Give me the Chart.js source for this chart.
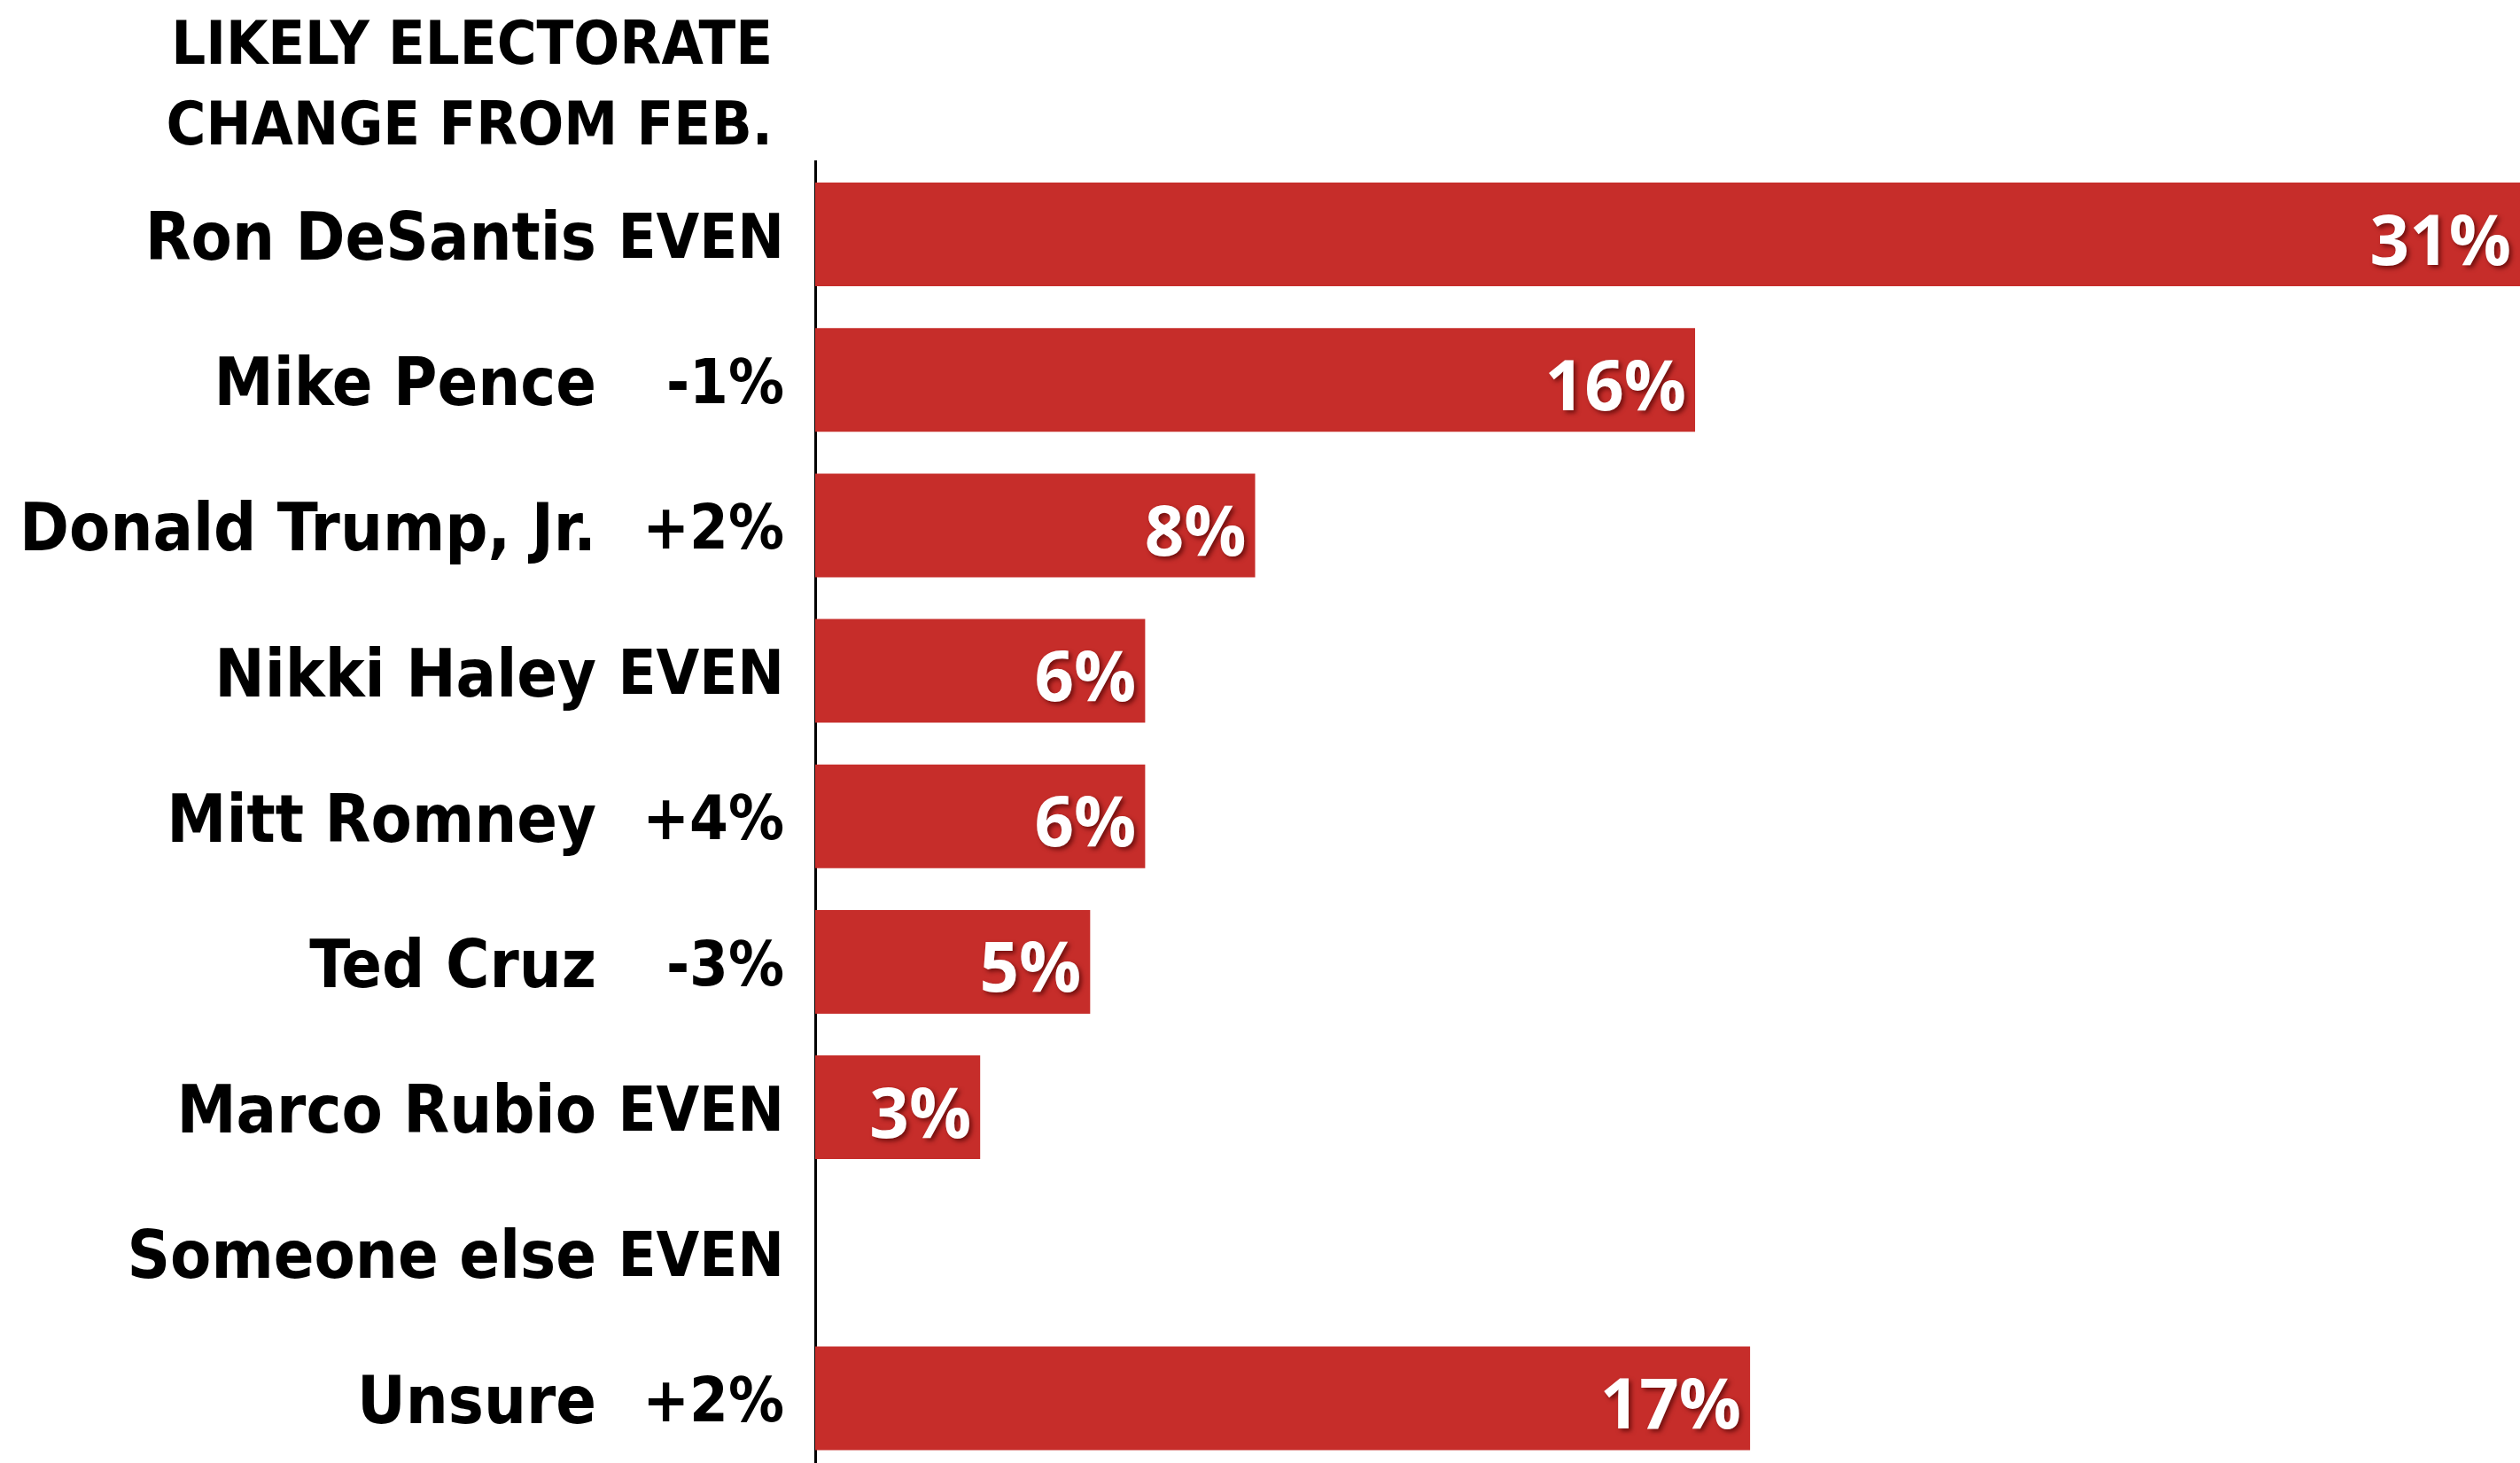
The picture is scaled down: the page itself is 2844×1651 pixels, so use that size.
<!DOCTYPE html>
<html>
<head>
<meta charset="utf-8">
<script src="https://cdn.jsdelivr.net/npm/chart.js@4.4.1/dist/chart.umd.min.js"></script>
<style>
    html, body { margin: 0; padding: 0; background: #fff; overflow: hidden; }
    canvas { display: block; }
</style>
</head>
<body>
<canvas id="myChart" width="2844" height="1660"></canvas>
<script>
const candidates = ['Ron DeSantis', 'Mike Pence', 'Donald Trump, Jr.', 'Nikki Haley', 'Mitt Romney',
                    'Ted Cruz', 'Marco Rubio', 'Someone else', 'Unsure'];
const changes    = ['EVEN', '-1%', '+2%', 'EVEN', '+4%', '-3%', 'EVEN', 'EVEN', '+2%'];
const shares     = [31, 16, 8, 6, 6, 5, 3, 0, 17];
const headerLines = ['LIKELY ELECTORATE', 'CHANGE FROM FEB.'];

const labelFont = '"DejaVu Sans Condensed", sans-serif';
const barRed = '#c62d2a';

// header text sits above the axis, right aligned with the change column
const headerPlugin = {
    id: 'header',
    afterDraw(chart) {
        const c = chart.ctx;
        c.save();
        c.fillStyle = '#000';
        c.font = 'bold 68px ' + labelFont;
        c.textAlign = 'right';
        c.textBaseline = 'alphabetic';
        c.fillText(headerLines[0], 872, 72);
        c.fillText(headerLines[1], 872, 163);
        c.restore();
    }
};

// white percentage at the end of each bar
const valuePlugin = {
    id: 'values',
    afterDatasetsDraw(chart) {
        const c = chart.ctx;
        const meta = chart.getDatasetMeta(0);
        c.save();
        c.font = 'bold 78px "Open Sans", sans-serif';
        c.textAlign = 'right';
        c.textBaseline = 'alphabetic';
        c.fillStyle = '#fff';
        c.shadowColor = 'rgba(70, 0, 0, 0.65)';
        c.shadowOffsetX = 3;
        c.shadowOffsetY = 3;
        c.shadowBlur = 5;
        meta.data.forEach((bar, i) => {
            if (!shares[i]) return;
            c.fillText(shares[i] + '%', bar.x - 10, bar.y + 34);
        });
        c.restore();
    }
};

// fixed column widths, and no extra room for half of the end labels
function fixWidth(w) {
    return function (scale) {
        scale.width = w;
        scale.paddingTop = 0;
        scale.paddingBottom = 0;
    };
}

const ctx = document.getElementById('myChart');

new Chart(ctx, {
    type: 'bar',
    data: {
        labels  : candidates,
        datasets: [
            {
                data              : shares,
                backgroundColor   : barRed,
                borderWidth       : 0,
                yAxisID           : 'yChange',
                barPercentage     : 0.713,
                categoryPercentage: 1
            }
        ]
    },
    options: {
        indexAxis : 'y',
        responsive: false,
        animation : false,
        devicePixelRatio: 1,
        layout: {
            padding: {top: 182.5, right: 0, bottom: 0, left: 0}
        },
        plugins: {
            legend : {display: false},
            tooltip: {enabled: false}
        },
        scales: {
            x: {
                display: false,
                min    : 0,
                max    : 31
            },
            yChange: {
                type    : 'category',
                position: 'left',
                labels  : changes,
                weight  : 0,
                grid    : {display: false, drawTicks: false},
                border  : {display: true, color: '#000', width: 3},
                ticks   : {
                    color      : '#000',
                    padding    : 35,
                    labelOffset: 8,
                    font       : {family: labelFont, weight: 'bold', size: 70}
                },
                afterFit: fixWidth(247)
            },
            yName: {
                type    : 'category',
                position: 'left',
                labels  : candidates,
                weight  : 1,
                grid    : {display: false, drawTicks: false},
                border  : {display: false},
                ticks   : {
                    color      : '#000',
                    padding    : 0,
                    labelOffset: 9,
                    font       : {family: labelFont, weight: 'bold', size: 75}
                },
                afterFit: fixWidth(673)
            }
        }
    },
    plugins: [headerPlugin, valuePlugin]
});
</script>
</body>
</html>
